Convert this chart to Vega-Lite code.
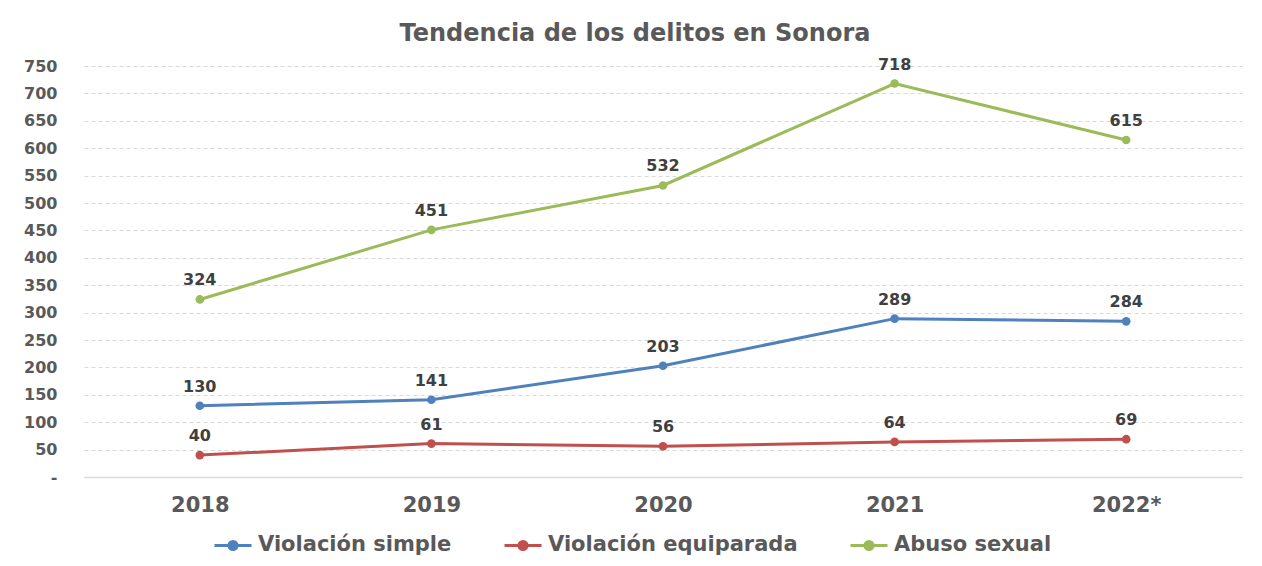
{
  "$schema": "https://vega.github.io/schema/vega-lite/v6.json",
  "width": 1158,
  "height": 411,
  "autosize": {"type": "none"},
  "padding": {"left": 84, "top": 66, "right": 20, "bottom": 89},
  "background": "white",
  "title": {
    "text": "Tendencia de los delitos en Sonora",
    "font": "DejaVu Sans",
    "fontSize": 24,
    "fontWeight": "bold",
    "color": "#595959",
    "anchor": "middle",
    "dx": -28,
    "baseline": "alphabetic",
    "offset": -8
  },
  "config": {
    "view": {"stroke": null},
    "axis": {"labelFont": "DejaVu Sans", "labelFontWeight": "bold", "labelColor": "#595959"}
  },
  "data": {
    "values": [
      {"anio": "2018", "serie": "Violación simple", "valor": 130},
      {"anio": "2019", "serie": "Violación simple", "valor": 141},
      {"anio": "2020", "serie": "Violación simple", "valor": 203},
      {"anio": "2021", "serie": "Violación simple", "valor": 289},
      {"anio": "2022*", "serie": "Violación simple", "valor": 284},
      {"anio": "2018", "serie": "Violación equiparada", "valor": 40},
      {"anio": "2019", "serie": "Violación equiparada", "valor": 61},
      {"anio": "2020", "serie": "Violación equiparada", "valor": 56},
      {"anio": "2021", "serie": "Violación equiparada", "valor": 64},
      {"anio": "2022*", "serie": "Violación equiparada", "valor": 69},
      {"anio": "2018", "serie": "Abuso sexual", "valor": 324},
      {"anio": "2019", "serie": "Abuso sexual", "valor": 451},
      {"anio": "2020", "serie": "Abuso sexual", "valor": 532},
      {"anio": "2021", "serie": "Abuso sexual", "valor": 718},
      {"anio": "2022*", "serie": "Abuso sexual", "valor": 615}
    ]
  },
  "encoding": {
    "x": {
      "field": "anio",
      "type": "ordinal",
      "sort": null,
      "scale": {"padding": 0.5},
      "axis": {
        "title": null,
        "labelAngle": 0,
        "labelFontSize": 21,
        "labelBaseline": "alphabetic",
        "labelPadding": 34,
        "ticks": false,
        "grid": false,
        "domain": true,
        "domainColor": "#d9d9d9",
        "domainWidth": 1.5
      }
    },
    "y": {
      "field": "valor",
      "type": "quantitative",
      "scale": {"domain": [0, 750], "nice": false},
      "axis": {
        "title": null,
        "values": [0, 50, 100, 150, 200, 250, 300, 350, 400, 450, 500, 550, 600, 650, 700, 750],
        "labelExpr": "datum.value == 0 ? '-\u00a0\u00a0' : datum.label",
        "labelFontSize": 16,
        "labelPadding": 27,
        "ticks": false,
        "domain": false,
        "grid": true,
        "gridColor": "#d9d9d9",
        "gridDash": [4, 3],
        "gridWidth": 1
      }
    }
  },
  "layer": [
    {
      "encoding": {
        "color": {
          "field": "serie",
          "type": "nominal",
          "scale": {
            "domain": ["Violación simple", "Violación equiparada", "Abuso sexual"],
            "range": ["#4F81BD", "#C0504D", "#9BBB59"]
          },
          "legend": {
            "title": null,
            "orient": "none",
            "legendX": 129,
            "legendY": 459,
            "direction": "horizontal",
            "symbolType": "M-1,0H1M-0.22,0A0.22,0.22 0 1,0 0.22,0A0.22,0.22 0 1,0 -0.22,0",
            "symbolSize": 1369,
            "symbolStrokeWidth": 3,
            "labelFont": "DejaVu Sans",
            "labelFontSize": 21,
            "labelFontWeight": "bold",
            "labelColor": "#595959",
            "labelOffset": 5,
            "labelLimit": 500,
            "columnPadding": 46,
            "encode": {
              "symbols": {
                "update": {
                  "fill": {"scale": "color", "field": "value"},
                  "stroke": {"scale": "color", "field": "value"},
                  "opacity": {"value": 1}
                }
              }
            }
          }
        }
      },
      "layer": [
        {"mark": {"type": "line", "strokeWidth": 3}},
        {"mark": {"type": "point", "filled": true, "size": 75, "opacity": 1}}
      ]
    },
    {
      "mark": {
        "type": "text",
        "font": "DejaVu Sans",
        "fontSize": 16,
        "fontWeight": "bold",
        "color": "#404040",
        "baseline": "alphabetic",
        "dy": -14
      },
      "encoding": {"text": {"field": "valor", "type": "quantitative"}}
    }
  ]
}
